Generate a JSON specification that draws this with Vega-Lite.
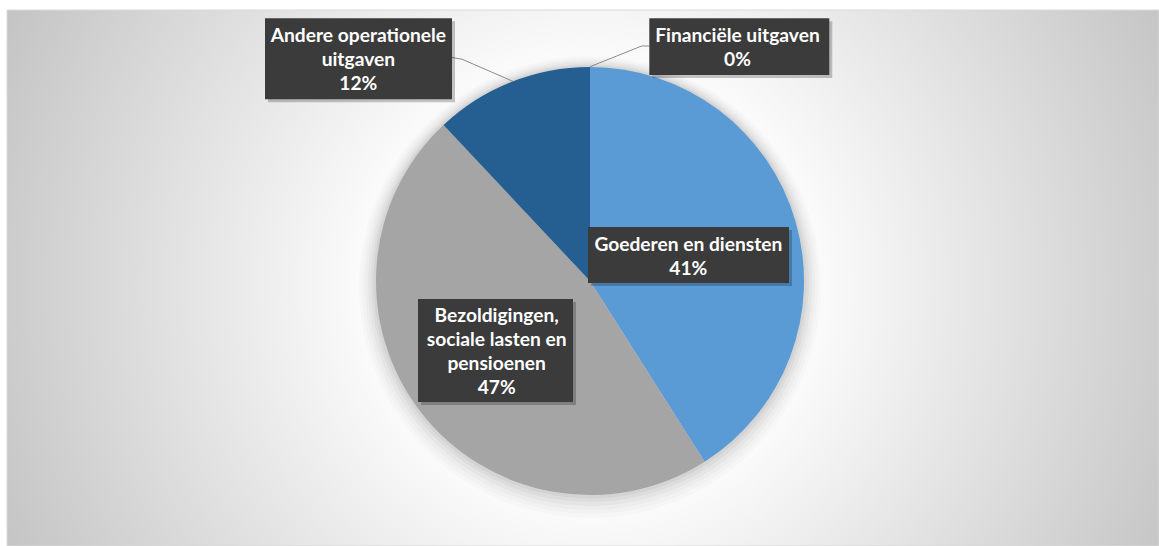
{
  "$schema": "https://vega.github.io/schema/vega-lite/v6.json",
  "width": 1152,
  "height": 536,
  "autosize": "none",
  "padding": {"left": 7, "top": 10, "right": 0, "bottom": 0},
  "background": "#ffffff",
  "config": {"view": {"stroke": null}},
  "resolve": {"scale": {"shape": "independent"}},
  "data": {
    "values": [
      {"category": "Goederen en diensten", "value": 41, "idx": 1, "label": ["Goederen en diensten", "41%"]},
      {"category": "Bezoldigingen, sociale lasten en pensioenen", "value": 47, "idx": 2, "label": ["Bezoldigingen,", "sociale lasten en", "pensioenen", "47%"]},
      {"category": "Andere operationele uitgaven", "value": 12, "idx": 3, "label": ["Andere operationele", "uitgaven", "12%"]},
      {"category": "Financiële uitgaven", "value": 0, "idx": 4, "label": ["Financiële uitgaven", "0%"]}
    ]
  },
  "layer": [
    {
      "transform": [{"filter": "datum.idx === 1"}],
      "mark": {
        "type": "rect",
        "fill": {
          "gradient": "radial",
          "x1": 0.506, "y1": 0.5056, "r1": 0,
          "x2": 0.506, "y2": 0.5056, "r2": 0.564,
          "stops": [
            {"offset": 0, "color": "#ffffff"},
            {"offset": 0.3, "color": "#ffffff"},
            {"offset": 1, "color": "#c3c3c3"}
          ]
        },
        "stroke": "#d9d9d9",
        "strokeWidth": 1
      },
      "encoding": {}
    },
    {
      "mark": {"type": "arc", "radius": 231, "fill": "#000000", "opacity": 0.015, "xOffset": 7, "yOffset": 9},
      "encoding": {"theta": {"field": "value", "type": "quantitative", "stack": true}, "order": {"field": "idx"}}
    },
    {
      "mark": {"type": "arc", "radius": 228, "fill": "#000000", "opacity": 0.02, "xOffset": 7, "yOffset": 8},
      "encoding": {"theta": {"field": "value", "type": "quantitative", "stack": true}, "order": {"field": "idx"}}
    },
    {
      "mark": {"type": "arc", "radius": 225, "fill": "#000000", "opacity": 0.025, "xOffset": 7, "yOffset": 7},
      "encoding": {"theta": {"field": "value", "type": "quantitative", "stack": true}, "order": {"field": "idx"}}
    },
    {
      "mark": {"type": "arc", "radius": 222, "fill": "#000000", "opacity": 0.03, "xOffset": 7, "yOffset": 6},
      "encoding": {"theta": {"field": "value", "type": "quantitative", "stack": true}, "order": {"field": "idx"}}
    },
    {
      "mark": {"type": "arc", "radius": 219, "fill": "#000000", "opacity": 0.035, "xOffset": 7, "yOffset": 5},
      "encoding": {"theta": {"field": "value", "type": "quantitative", "stack": true}, "order": {"field": "idx"}}
    },
    {
      "mark": {"type": "arc", "radius": 216.5, "fill": "#000000", "opacity": 0.04, "xOffset": 7, "yOffset": 4},
      "encoding": {"theta": {"field": "value", "type": "quantitative", "stack": true}, "order": {"field": "idx"}}
    },
    {
      "mark": {"type": "arc", "radius": 214, "xOffset": 7, "yOffset": 3},
      "encoding": {
        "theta": {"field": "value", "type": "quantitative", "stack": true},
        "order": {"field": "idx"},
        "color": {
          "field": "category",
          "type": "nominal",
          "scale": {
            "domain": ["Goederen en diensten", "Bezoldigingen, sociale lasten en pensioenen", "Andere operationele uitgaven", "Financiële uitgaven"],
            "range": ["#5b9bd5", "#a5a5a5", "#255e91", "#ed7d31"]
          },
          "legend": null
        }
      }
    },
    {
      "transform": [{"filter": "datum.idx >= 3"}],
      "mark": {"type": "point", "filled": false, "size": 4, "stroke": "#8a8a8a", "strokeWidth": 1, "fillOpacity": 0, "opacity": 1, "xOffset": 7, "yOffset": 3},
      "encoding": {
        "shape": {
          "field": "category",
          "type": "nominal",
          "scale": {
            "domain": ["Andere operationele uitgaven", "Financiële uitgaven"],
            "range": ["M-138,-223.5L-128,-221.8L-76.7,-199.5", "M0,-214.3L51.7,-235L59.5,-235"]
          },
          "legend": null
        }
      }
    },
    {
      "mark": {"type": "point", "filled": true, "size": 4, "fill": "#000000", "opacity": 0.22, "strokeWidth": 0, "xOffset": 10, "yOffset": 6},
      "encoding": {
        "shape": {
          "field": "category",
          "type": "nominal",
          "scale": {
            "domain": ["Goederen en diensten", "Bezoldigingen, sociale lasten en pensioenen", "Andere operationele uitgaven", "Financiële uitgaven"],
            "range": ["M-2,-54L199,-54L199,2L-2,2Z", "M-172,18L-17,18L-17,121L-172,121Z", "M-325,-262.7L-138,-262.7L-138,-181.7L-325,-181.7Z", "M59.3,-262.7L239.3,-262.7L239.3,-206L59.3,-206Z"]
          },
          "legend": null
        }
      }
    },
    {
      "mark": {"type": "point", "filled": true, "size": 4, "fill": "#3b3b3b", "opacity": 1, "strokeWidth": 0, "xOffset": 7, "yOffset": 3},
      "encoding": {
        "shape": {
          "field": "category",
          "type": "nominal",
          "scale": {
            "domain": ["Goederen en diensten", "Bezoldigingen, sociale lasten en pensioenen", "Andere operationele uitgaven", "Financiële uitgaven"],
            "range": ["M-2,-54L199,-54L199,2L-2,2Z", "M-172,18L-17,18L-17,121L-172,121Z", "M-325,-262.7L-138,-262.7L-138,-181.7L-325,-181.7Z", "M59.3,-262.7L239.3,-262.7L239.3,-206L59.3,-206Z"]
          },
          "legend": null
        }
      }
    },
    {
      "mark": {"type": "text", "font": "Lato", "fontWeight": "bold", "fontSize": 19.2, "lineHeight": 24, "fill": "#ffffff", "align": "center", "baseline": "middle", "radius": 102, "dx": 0.4, "dy": -7.5, "xOffset": 7, "yOffset": 3},
      "encoding": {
        "theta": {"field": "value", "type": "quantitative", "stack": true},
        "order": {"field": "idx"},
        "text": {"condition": {"test": "datum.idx === 1", "field": "label", "type": "nominal"}, "value": ""}
      }
    },
    {
      "mark": {"type": "text", "font": "Lato", "fontWeight": "bold", "fontSize": 19.2, "lineHeight": 24, "fill": "#ffffff", "align": "center", "baseline": "middle", "radius": 117, "dx": -0.9, "dy": -36.5, "xOffset": 7, "yOffset": 3},
      "encoding": {
        "theta": {"field": "value", "type": "quantitative", "stack": true},
        "order": {"field": "idx"},
        "text": {"condition": {"test": "datum.idx === 2", "field": "label", "type": "nominal"}, "value": ""}
      }
    },
    {
      "transform": [{"filter": "datum.idx === 3"}],
      "mark": {"type": "text", "font": "Lato", "fontWeight": "bold", "fontSize": 19.2, "lineHeight": 24, "fill": "#ffffff", "align": "center", "baseline": "middle", "theta": 5.477, "radius": 321, "dy": -23.1, "xOffset": 7, "yOffset": 3},
      "encoding": {"text": {"field": "label", "type": "nominal"}}
    },
    {
      "transform": [{"filter": "datum.idx === 4"}],
      "mark": {"type": "text", "font": "Lato", "fontWeight": "bold", "fontSize": 19.2, "lineHeight": 24, "fill": "#ffffff", "align": "center", "baseline": "middle", "theta": 0.5672, "radius": 277.8, "dx": -1.8, "dy": -11.2, "xOffset": 7, "yOffset": 3},
      "encoding": {"text": {"field": "label", "type": "nominal"}}
    }
  ]
}
